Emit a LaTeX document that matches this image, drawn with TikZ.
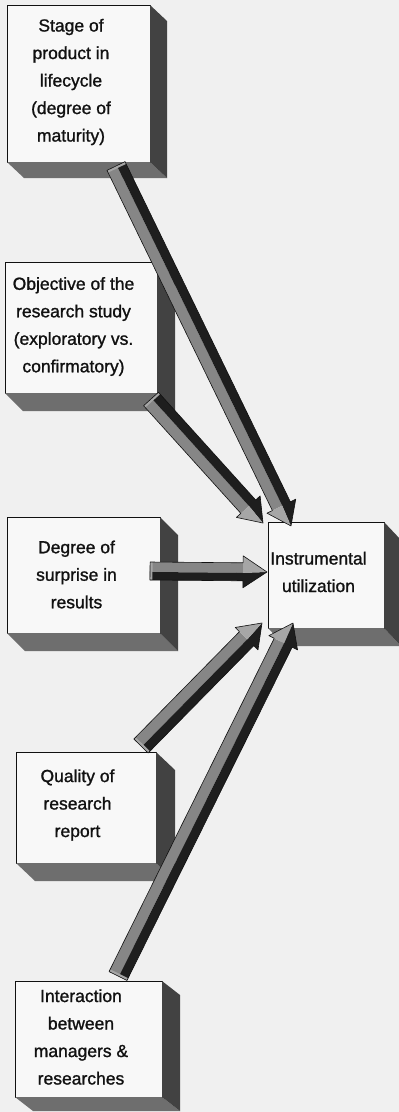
\documentclass[tikz,border=0pt]{standalone}
\usepackage{fontspec}
\setmainfont{Liberation Sans}
\newfontfamily\labelfont{Liberation Sans}[FakeBold=1.2]
\usetikzlibrary{calc}

\definecolor{pagebg}{HTML}{F0F0F0}
\definecolor{facefill}{HTML}{F8F8F8}
\definecolor{sidegray}{HTML}{424242}
\definecolor{basegray}{HTML}{6E6E6E}
\definecolor{shaftlight}{HTML}{868686}
\definecolor{headlight}{HTML}{A6A6A6}
\definecolor{shaftdark}{HTML}{1E1E1E}
\definecolor{inkblack}{HTML}{111111}

\tikzset{
  face/.style={draw=inkblack, line width=0.9pt, fill=facefill, outer sep=0pt, inner sep=0pt},
  boxtext/.style={font=\labelfont\fontsize{17.5pt}{27.5pt}\selectfont, align=center, text=inkblack, inner sep=0pt},
  sideface/.style={fill=sidegray},
  baseface/.style={fill=basegray},
  shaftlit/.style={fill=shaftlight},
  headlit/.style={fill=headlight},
  shaftshade/.style={fill=shaftdark},
  arrowedge/.style={draw=inkblack, line width=0.6pt, line join=round},
}

% bottom and right faces of a raised box: node, depth x, depth y
\newcommand\extrude[3]{%
  \fill[baseface] (#1.south west) -- (#1.south east) -- ($(#1.south east)+(#2,#3)$)
    -- ($(#1.south west)+(#2,#3)$) -- cycle;
  \fill[sideface] (#1.north east) -- ($(#1.north east)+(#2,#3)$)
    -- ($(#1.south east)+(#2,#3)$) -- (#1.south east) -- cycle;
}

% shaded block arrow: tail, tip, shaded side (1 or -1),
% shaft half width, head half width, head length
\newcommand\blockarrow[6]{%
  \path let \p1=(#1), \p2=(#2) in
    \pgfextra{%
      \pgfmathparse{atan2((\y2)-(\y1),(\x2)-(\x1))}\xdef\arrang{\pgfmathresult}%
      \pgfmathparse{veclen((\x2)-(\x1),(\y2)-(\y1))}\xdef\arrlen{\pgfmathresult}%
    };
  \begin{scope}[shift={(#1)}, rotate=\arrang, x=1pt, y=#3pt]
    % lit half of the shaft
    \fill[shaftlit] (0,-#4) -- (\arrlen-#6,-#4) -- (\arrlen-#6,1) -- (0,1) -- cycle;
    % shaded half of the shaft and of the head
    \fill[shaftshade] (0,1) -- (\arrlen-#6,1) -- (\arrlen,0) -- (\arrlen-#6,#5)
      -- (\arrlen-#6,#4) -- (0,#4) -- cycle;
    % lit facet of the head
    \fill[headlit] (\arrlen-#6,-#4) -- (\arrlen-#6,-#5) -- (\arrlen,0)
      -- (\arrlen-#6,1) -- cycle;
    % light end cap at the tail
    \fill[headlit] (0,-#4) -- (0,#4) -- (2.5,#4) -- (2.5,-#4) -- cycle;
    \draw[arrowedge] (0,-#4) -- (\arrlen-#6,-#4) -- (\arrlen-#6,-#5) -- (\arrlen,0)
      -- (\arrlen-#6,#5) -- (\arrlen-#6,#4) -- (0,#4) -- cycle;
  \end{scope}}

\begin{document}
\begin{tikzpicture}[x=1pt, y=-1pt]
  \useasboundingbox (0,0) rectangle (399,1112);
  \fill[pagebg] (0,0) rectangle (399,1112);

  % front faces of the boxes
  \node[face, minimum width=143pt, minimum height=157pt] (stage)    at (78.5,83.5) {};
  \node[face, minimum width=152pt, minimum height=131pt] (objective) at (81,327.5) {};
  \node[face, minimum width=153pt, minimum height=116pt] (surprise) at (83.5,575) {};
  \node[face, minimum width=140pt, minimum height=111pt] (quality)  at (86,807.5) {};
  \node[face, minimum width=147pt, minimum height=116pt] (interact) at (88.5,1039) {};
  \node[face, minimum width=116pt, minimum height=106pt] (instr)    at (326,575) {};

  % depth of the boxes
  \extrude{stage}{17}{16}
  \extrude{objective}{18}{18}
  \extrude{surprise}{18}{18}
  \extrude{quality}{19}{18}
  \extrude{interact}{18}{14}
  \extrude{instr}{17}{18}

  % labels
  \node[boxtext] (stage-t)     at (71,82)      {Stage of\\product in\\lifecycle\\(degree of\\maturity)};
  \node[boxtext] (objective-t) at (73.5,326.5) {Objective of the\\research study\\(exploratory vs.\\confirmatory)};
  \node[boxtext] (surprise-t)  at (76.5,574.5) {Degree of\\surprise in\\results};
  \node[boxtext] (quality-t)   at (77.5,805)   {Quality of\\research\\report};
  \node[boxtext] (interact-t)  at (81,1037)    {Interaction\\between\\managers \&\\researches};
  \node[boxtext] (instr-t)     at (318.5,572)  {Instrumental\\utilization};

  % arrow ends
  \coordinate (a1s) at (116,166);  \coordinate (a1e) at (291,526);
  \coordinate (a2s) at (151,399);  \coordinate (a2e) at (263,523);
  \coordinate (a3s) at (150,571);  \coordinate (a3e) at (267,572);
  \coordinate (a4s) at (141,746);  \coordinate (a4e) at (262,623);
  \coordinate (a5s) at (118,976);  \coordinate (a5e) at (293,623);

  \blockarrow{a1s}{a1e}{1}{10}{16}{22}
  \blockarrow{a2s}{a2e}{1}{10}{16}{22}
  \blockarrow{a3s}{a3e}{-1}{9}{16}{24}
  \blockarrow{a4s}{a4e}{-1}{10}{16}{22}
  \blockarrow{a5s}{a5e}{-1}{10}{16}{22}
\end{tikzpicture}
\end{document}
